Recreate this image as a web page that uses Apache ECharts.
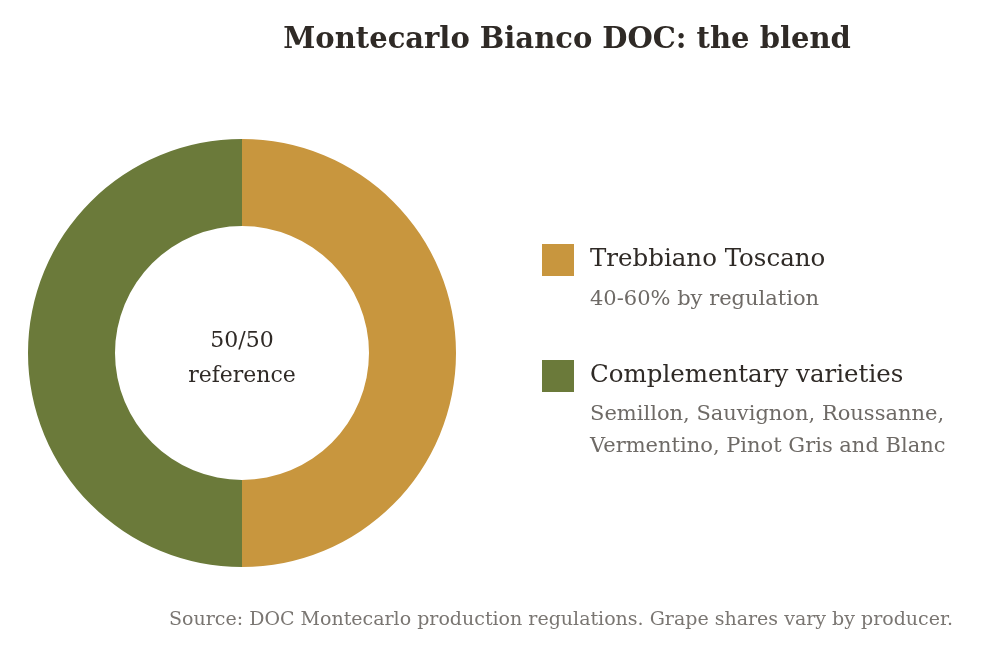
<!DOCTYPE html>
<html>
<head>
    <meta charset="UTF-8">
    <title>Montecarlo Bianco DOC</title>
    <script src="https://cdn.jsdelivr.net/npm/echarts@6/dist/echarts.min.js"></script>
</head>
<body style="margin: 0; background: #fff">
    <div id="container" style="width: 981px; height: 661px"></div>
    <script type="text/javascript">
        var varieties = ['Trebbiano Toscano', 'Complementary varieties'];
        var shares = [50, 50];
        var notes = [
            ['40-60% by regulation'],
            ['Semillon, Sauvignon, Roussanne,', 'Vermentino, Pinot Gris and Blanc']
        ];
        var colors = ['#C8963E', '#6B7A3A'];

        var serif = "Georgia, 'DejaVu Serif', serif";
        var dom = document.getElementById("container");
        var myChart = echarts.init(dom);

        var option = {
            backgroundColor: '#fff',
            animation: false,
            title: {
                text: 'Montecarlo Bianco DOC: the blend',
                left: 562,
                textAlign: 'center',
                top: 21,
                textStyle: {
                    fontFamily: serif,
                    fontSize: 29,
                    fontWeight: 'bold',
                    color: '#2f2a26'
                }
            },
            legend: {
                orient: 'vertical',
                left: 542,
                top: 244,
                padding: 0,
                itemWidth: 32,
                itemHeight: 32,
                itemGap: 84,
                icon: 'rect',
                selectedMode: false,
                textStyle: {
                    fontFamily: serif,
                    fontSize: 24.5,
                    color: '#2f2a26',
                    padding: [0, 0, 0, 11]
                },
                data: varieties
            },
            graphic: [],
            series: [{
                type: 'pie',
                center: [242, 353],
                radius: [127, 214],
                startAngle: 90,
                clockwise: true,
                silent: true,
                label: { show: false },
                labelLine: { show: false },
                data: varieties.map(function (v, i) {
                    return { name: v, value: shares[i], itemStyle: { color: colors[i] } };
                })
            }]
        };

        // subtitles under the legend entries
        var noteY = [[300], [415, 447]];
        notes.forEach(function (lines, i) {
            lines.forEach(function (t, j) {
                option.graphic.push({
                    type: 'text',
                    x: 590,
                    y: noteY[i][j],
                    style: { text: t, font: '21px ' + serif, fill: '#6e6a66', verticalAlign: 'middle' }
                });
            });
        });

        // centre label
        ['50/50', 'reference'].forEach(function (t, i) {
            option.graphic.push({
                type: 'text',
                x: 242,
                y: 341 + i * 35,
                style: {
                    text: t,
                    font: '22px ' + serif,
                    fill: '#2f2a26',
                    textAlign: 'center',
                    verticalAlign: 'middle'
                }
            });
        });

        // source note
        option.graphic.push({
            type: 'text',
            x: 953,
            y: 620,
            style: {
                text: 'Source: DOC Montecarlo production regulations. Grape shares vary by producer.',
                font: '19px ' + serif,
                fill: '#7a7672',
                textAlign: 'right',
                verticalAlign: 'middle'
            }
        });

        myChart.setOption(option);
    </script>
</body>
</html>
